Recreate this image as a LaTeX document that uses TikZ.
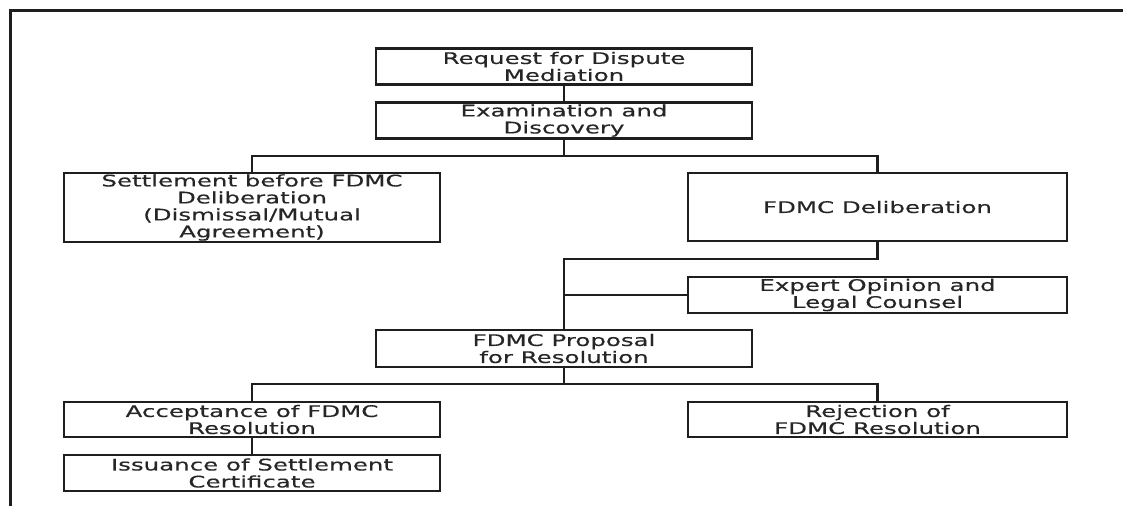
\documentclass[tikz,border=0pt]{standalone}
\usepackage{fontspec}
\setmainfont[FakeStretch=1.53,FakeBold=0.4]{DejaVu Sans}
\definecolor{boxline}{HTML}{1E1E1E}
\definecolor{textcol}{HTML}{262626}
\begin{document}
\begin{tikzpicture}[x=1pt,y=-1pt]
	\tikzset{box/.style = {shape=rectangle,draw=boxline,line width=2.4pt,minimum width=376pt,minimum height=36pt,inner sep=0pt,align=center,text=textcol,font=\fontsize{16}{17}\selectfont}}
	\tikzset{link/.style = {draw=boxline,line width=2.6pt}}
	\useasboundingbox (0,0) rectangle (1123,506);
	% outer frame, only top and left sides show
	\draw[boxline,line width=3pt] (10,506) -- (10,10) -- (1123,10);
	\node[box] (req) at (564,66.5) {Request for Dispute\\Mediation};
	\node[box] (exam) at (564,120.5) {Examination and\\Discovery};
	\node[box,minimum height=69pt] (settle) at (252,207.5) {Settlement before FDMC\\Deliberation\\(Dismissal/Mutual\\Agreement)};
	\node[box,minimum height=68pt,minimum width=379pt] (delib) at (877.5,207) {FDMC Deliberation};
	\node[box,minimum width=379pt] (expert) at (877.5,295) {Expert Opinion and\\Legal Counsel};
	\node[box,minimum height=37pt] (prop) at (564,348.5) {FDMC Proposal\\for Resolution};
	\node[box,minimum height=35pt] (accept) at (252,419.5) {Acceptance of FDMC\\Resolution};
	\node[box,minimum height=35pt,minimum width=379pt] (reject) at (877.5,419.5) {Rejection of\\FDMC Resolution};
	\node[box] (issue) at (252,473) {Issuance of Settlement\\Certificate};
	\coordinate (bus1) at (564,156);
	\coordinate (bus2) at (564,259);
	\coordinate (bus3) at (564,384);
	\path[link] (req) -- (exam);
	\path[link] (exam.south) -- (bus1);
	\path[link] (settle.north) |- (bus1) -| (delib.north);
	\path[link] (delib.south) |- (bus2) -- (prop.north);
	\path[link] (expert.west) -- (expert.west -| bus2);
	\path[link] (prop.south) -- (bus3);
	\path[link] (accept.north) |- (bus3) -| (reject.north);
	\path[link] (accept) -- (issue);
\end{tikzpicture}
\end{document}
